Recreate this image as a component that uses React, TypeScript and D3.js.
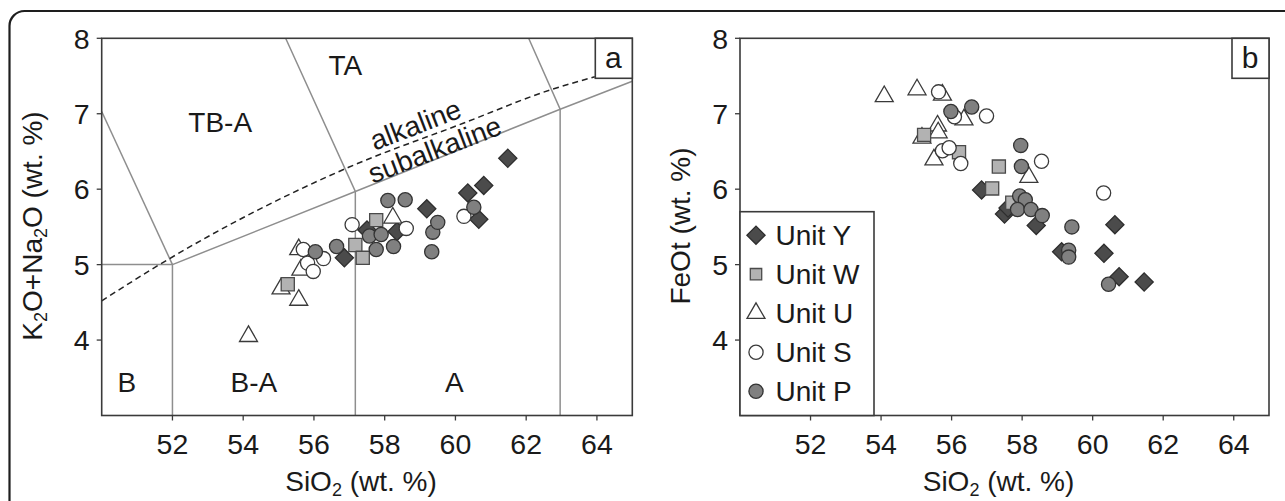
import * as d3 from "d3";

type Pt = [number, number];

const xTicks = [52, 54, 56, 58, 60, 62, 64];
const yTicks = [4, 5, 6, 7, 8];
const unitNames = ["Unit Y", "Unit W", "Unit U", "Unit S", "Unit P"];

// panel a: SiO2 vs K2O+Na2O
const yAlk: Pt[] = [[61.48, 6.41], [60.8, 6.05], [60.35, 5.95], [59.19, 5.74], [60.66, 5.6], [57.5, 5.46], [58.35, 5.44], [56.86, 5.09]];
const wAlk: Pt[] = [[57.76, 5.59], [57.17, 5.26], [57.38, 5.09], [55.26, 4.74]];
const uAlk: Pt[] = [[55.57, 5.2], [58.23, 5.62], [55.63, 4.93], [55.07, 4.68], [55.57, 4.53], [54.15, 4.05]];
const sAlk: Pt[] = [[57.08, 5.53], [55.7, 5.2], [55.82, 5.02], [55.98, 4.91], [56.27, 5.08], [58.61, 5.48], [60.24, 5.64]];
const pAlk: Pt[] = [[58.09, 5.85], [58.58, 5.86], [56.04, 5.17], [56.64, 5.24], [57.57, 5.38], [57.9, 5.4], [57.76, 5.2], [58.25, 5.24], [59.36, 5.43], [59.5, 5.56], [59.33, 5.17], [60.52, 5.76]];

// panel b: SiO2 vs FeOt
const yFe: Pt[] = [[56.85, 5.99], [57.5, 5.67], [57.6, 5.75], [58.4, 5.52], [59.12, 5.17], [60.75, 4.84], [61.46, 4.77], [60.63, 5.53], [60.32, 5.15]];
const wFe: Pt[] = [[55.22, 6.72], [56.21, 6.49], [57.34, 6.3], [57.15, 6.01], [57.72, 5.82]];
const uFe: Pt[] = [[54.09, 7.23], [55.02, 7.32], [55.74, 7.25], [56.35, 6.92], [55.6, 6.84], [55.62, 6.75], [55.16, 6.68], [55.5, 6.39], [58.19, 6.16]];
const sFe: Pt[] = [[55.63, 7.29], [56.08, 6.96], [56.99, 6.97], [55.74, 6.51], [55.93, 6.55], [56.26, 6.34], [58.55, 6.37], [60.31, 5.95]];
const pFe: Pt[] = [[55.98, 7.03], [56.57, 7.09], [57.96, 6.58], [57.98, 6.3], [57.93, 5.91], [58.09, 5.86], [57.87, 5.73], [58.25, 5.73], [58.57, 5.65], [59.41, 5.5], [59.32, 5.19], [59.32, 5.1], [60.45, 4.74]];

// TAS field boundaries (as drawn)
const tasLines: Pt[][] = [
  [[50, 7.03], [52, 5]],
  [[50, 5], [52, 5], [52, 3]],
  [[57.17, 3], [57.17, 5.97], [55.2, 8]],
  [[62.96, 3], [62.96, 7.06], [62.07, 8]],
  [[52, 5], [57.17, 5.97], [62.96, 7.06], [65, 7.43]],
];
const alkalineCurve: Pt[] = [[50, 4.52], [51.74, 5.03], [56.98, 6.29], [60.2, 6.87], [62.71, 7.32], [63.94, 7.49]];
const fieldNames = ["TB-A", "TA", "B", "B-A", "A"];
const fieldAt: Pt[] = [[53.35, 6.89], [56.89, 7.65], [50.71, 3.44], [54.3, 3.44], [59.97, 3.44]];

const FONT = "'Liberation Sans', Arial, Helvetica, sans-serif";
const AX = "#3a3a3a";
const TOP = 38.3;
const BOTTOM = 415.5;
// draw order: Y, U, W, S, P (index into unitNames / styles)
const drawOrder = [0, 2, 1, 3, 4];

const styles = [
  { kind: "diamond", fill: "#4b4b4b", stroke: "#2e2e2e" },
  { kind: "square", fill: "#b2b2b2", stroke: "#4a4a4a" },
  { kind: "triangle", fill: "#ffffff", stroke: "#3a3a3a" },
  { kind: "circle", fill: "#ffffff", stroke: "#3a3a3a" },
  { kind: "circle", fill: "#808080", stroke: "#333333" },
];

function markerPath(kind: string, small = false) {
  if (kind === "diamond") return d3.symbol(d3.symbolSquare, 165)() as string;
  if (kind === "square") return d3.symbol(d3.symbolSquare, small ? 130 : 172)() as string;
  if (kind === "triangle") return d3.symbol(d3.symbolTriangle, 140)() as string;
  return d3.symbol(d3.symbolCircle, 158)() as string;
}

function Marker({ x, y, i, small }: { x: number; y: number; i: number; small?: boolean }) {
  const st = styles[i];
  const rot = st.kind === "diamond" ? " rotate(45)" : "";
  return (
    <path
      d={markerPath(st.kind, small)}
      transform={`translate(${x},${y})${rot}`}
      fill={st.fill}
      stroke={st.stroke}
      strokeWidth={1.3}
    />
  );
}

// text with subscript "2"
function Sub({ parts }: { parts: string[] }) {
  return (
    <>
      {parts.map((p, i) =>
        p === "_2" ? (
          <tspan key={i} fontSize={18} dy={5}>2</tspan>
        ) : (
          <tspan key={i} dy={i > 0 && parts[i - 1] === "_2" ? -5 : 0}>{p}</tspan>
        )
      )}
    </>
  );
}

function Panel({ left, right, series, yTitle, tag, children }: any) {
  const x = d3.scaleLinear().domain([50, 65]).range([left, right]);
  const y = d3.scaleLinear().domain([3, 8]).range([BOTTOM, TOP]);
  const cx = (left + right) / 2 - 6;
  return (
    <g fontFamily={FONT}>
      {children && children(x, y, "under")}
      {drawOrder.map((si) =>
        (series[si] as Pt[]).map((p, j) => <Marker key={si + "-" + j} x={x(p[0])} y={y(p[1])} i={si} />)
      )}
      <rect x={left} y={TOP} width={right - left} height={BOTTOM - TOP} fill="none" stroke={AX} strokeWidth={1.6} />
      {xTicks.map((t) => (
        <g key={t}>
          <line x1={x(t)} x2={x(t)} y1={BOTTOM} y2={BOTTOM + 5} stroke={AX} strokeWidth={1.3} />
          <text x={x(t)} y={454} fontSize={28.5} textAnchor="middle" fill="#1a1a1a">{t}</text>
        </g>
      ))}
      {yTicks.map((t) => (
        <g key={t}>
          <line x1={left - 5} x2={left} y1={y(t)} y2={y(t)} stroke={AX} strokeWidth={1.3} />
          <text x={left - 12} y={y(t)} dy="0.36em" fontSize={28.5} textAnchor="end" fill="#1a1a1a">{t}</text>
        </g>
      ))}
      <text x={cx} y={491} fontSize={28} textAnchor="middle" fill="#1a1a1a">
        <Sub parts={["SiO", "_2", " (wt. %)"]} />
      </text>
      <text
        x={0}
        y={0}
        dy="0.35em"
        fontSize={28}
        textAnchor="middle"
        fill="#1a1a1a"
        transform={`translate(${left - 60},${226}) rotate(-90)`}
      >
        {yTitle}
      </text>
      <rect x={right - 37} y={TOP} width={37} height={40} fill="#fff" stroke={AX} strokeWidth={1.6} />
      <text x={right - 19} y={68} fontSize={30} textAnchor="middle" fill="#1a1a1a">{tag}</text>
      {children && children(x, y, "over")}
    </g>
  );
}

export default function App() {
  return (
    <svg
      width={1285}
      height={501}
      style={{ position: "absolute", left: 0, top: 0, display: "block", background: "#fff" }}
    >
      <rect x={9.5} y={11} width={1400} height={600} rx={15} fill="#fff" stroke="#1e1e1e" strokeWidth={2.2} />

      <Panel
        left={101.7}
        right={632.3}
        series={[yAlk, wAlk, uAlk, sAlk, pAlk]}
        yTitle={<Sub parts={["K", "_2", "O+Na", "_2", "O (wt. %)"]} />}
        tag="a"
      >
        {(x: any, y: any, layer: string) => {
          if (layer !== "under") return null;
          const l = d3.line<Pt>().x((d) => x(d[0])).y((d) => y(d[1]));
          const c = d3.line<Pt>().x((d) => x(d[0])).y((d) => y(d[1])).curve(d3.curveMonotoneX);
          return (
            <g>
              {tasLines.map((pts, i) => (
                <path key={i} d={l(pts) as string} fill="none" stroke="#8e8e8e" strokeWidth={1.5} />
              ))}
              <path d={c(alkalineCurve) as string} fill="none" stroke="#222" strokeWidth={1.5} strokeDasharray="6,4" />
              {fieldNames.map((n, i) => (
                <text key={n} x={x(fieldAt[i][0])} y={y(fieldAt[i][1])} dy="0.36em" fontSize={28} textAnchor="middle" fill="#1a1a1a">
                  {n}
                </text>
              ))}
              <text transform={`translate(${x(58.87)},${y(6.86)}) rotate(-21)`} fontSize={28} textAnchor="middle" dy="0.36em" fill="#1a1a1a">alkaline</text>
              <text transform={`translate(${x(59.41)},${y(6.53)}) rotate(-21)`} fontSize={28} textAnchor="middle" dy="0.36em" fill="#1a1a1a">subalkaline</text>
            </g>
          );
        }}
      </Panel>

      <Panel
        left={740}
        right={1269}
        series={[yFe, wFe, uFe, sFe, pFe]}
        yTitle="FeOt (wt. %)"
        tag="b"
      >
        {(x: any, y: any, layer: string) => {
          if (layer !== "over") return null;
          const lx = 740, ly = 211.7;
          return (
            <g>
              <rect x={lx} y={ly} width={134} height={BOTTOM - ly} fill="#fff" stroke={AX} strokeWidth={1.6} />
              {unitNames.map((n, i) => (
                <g key={n}>
                  <Marker x={lx + 16} y={ly + 23.5 + i * 39} i={i} small />
                  <text x={lx + 35.5} y={ly + 23.5 + i * 39} dy="0.36em" fontSize={28} fill="#1a1a1a">{n}</text>
                </g>
              ))}
            </g>
          );
        }}
      </Panel>
    </svg>
  );
}
